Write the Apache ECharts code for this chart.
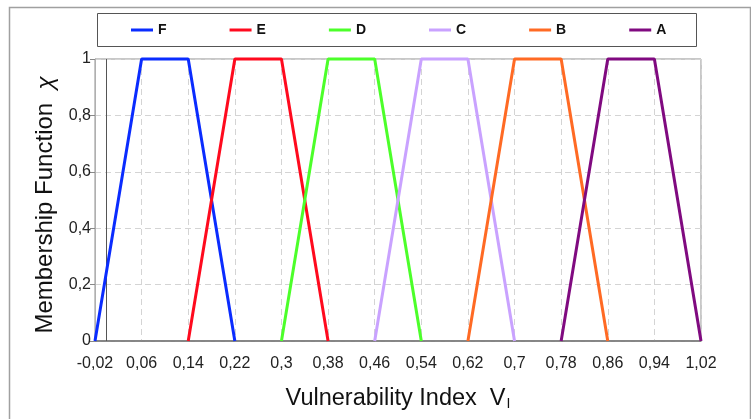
<!DOCTYPE html>
<html>
<head>
<meta charset="utf-8">
<script src="https://cdn.jsdelivr.net/npm/echarts@6/dist/echarts.min.js"></script>
<style>html,body{margin:0;padding:0;background:#fff}#c{width:751px;height:419px}</style>
</head>
<body>
<div id="c"></div>
<script>
// Class names (legend order)
const classNames = ['F', 'E', 'D', 'C', 'B', 'A'];
// Trapezoid vertices (x) for each class
const xF = [-0.02, 0.06, 0.14, 0.22];
const xE = [0.14, 0.22, 0.30, 0.38];
const xD = [0.30, 0.38, 0.46, 0.54];
const xC = [0.46, 0.54, 0.62, 0.70];
const xB = [0.62, 0.70, 0.78, 0.86];
const xA = [0.78, 0.86, 0.94, 1.02];
// Membership values at the vertices
const yTrap = [0, 1, 1, 0];
// Tick values
const xTicks = [-0.02, 0.06, 0.14, 0.22, 0.30, 0.38, 0.46, 0.54, 0.62, 0.70, 0.78, 0.86, 0.94, 1.02];
const yTicks = [0, 0.2, 0.4, 0.6, 0.8, 1];

const colors = ['#0a2cff', '#ff0a1e', '#4cff2a', '#c9a2ff', '#ff6a24', '#800a80'];
const xs = [xF, xE, xD, xC, xB, xA];

const FONT = 'Liberation Sans, Arial, sans-serif';
const fmt = v => String(+(+v).toFixed(2)).replace('.', ',');

const series = classNames.map((n, i) => ({
  name: n,
  type: 'line',
  symbol: 'none',
  clip: false,
  data: xs[i].map((x, j) => [x, yTrap[j]]),
  lineStyle: { color: colors[i], width: 3 },
  itemStyle: { color: colors[i] },
  z: 3
}));
series[0].markLine = {
  silent: true,
  symbol: 'none',
  label: { show: false },
  lineStyle: { color: '#555', width: 1, type: 'solid' },
  data: [{ xAxis: 0 }],
  z: 2
};

const chart = echarts.init(document.getElementById('c'), null, { renderer: 'canvas' });
chart.setOption({
  animation: false,
  backgroundColor: '#fff',
  textStyle: { fontFamily: FONT },
  graphic: [
    { type: 'rect', shape: { x: 9.5, y: 7.5, width: 741, height: 440 }, style: { fill: 'none', stroke: '#a0a0a0', lineWidth: 1.5 }, z: -1 },
    { type: 'rect', shape: { x: 97.5, y: 13.5, width: 599, height: 33 }, style: { fill: '#fff', stroke: '#555', lineWidth: 1 }, z: 0 }
  ],
  legend: {
    data: classNames,
    left: 131,
    top: 23,
    padding: 0,
    itemGap: 63,
    itemWidth: 22,
    itemHeight: 3,
    icon: 'rect',
    textStyle: { fontSize: 14, fontWeight: 'bold', color: '#111', fontFamily: FONT },
    z: 5
  },
  grid: {
    left: 95, right: 50, top: 59, bottom: 78,
    show: true, borderColor: '#909090', borderWidth: 1, backgroundColor: 'transparent'
  },
  xAxis: {
    type: 'value',
    min: -0.02, max: 1.02,
    name: '{m|Vulnerability Index  V}{sub|I}',
    nameLocation: 'middle',
    nameGap: 46,
    nameTextStyle: {
      fontSize: 23.5, color: '#111', fontFamily: FONT,
      rich: {
        m: { fontSize: 23.5, color: '#111', fontFamily: FONT },
        sub: { fontSize: 14, verticalAlign: 'bottom', padding: [10, 0, 0, 1], color: '#111', fontFamily: FONT }
      }
    },
    axisLine: { show: true, onZero: false, lineStyle: { color: '#707070', width: 1.5 } },
    axisTick: { show: false, customValues: xTicks },
    axisLabel: { customValues: xTicks, formatter: fmt, fontSize: 16, color: '#222', margin: 15 },
    splitLine: { show: true, lineStyle: { color: '#d4d4d4', type: [6, 4], width: 1 } }
  },
  yAxis: {
    type: 'value',
    min: 0, max: 1, interval: 0.2,
    name: '{m|Membership Function  }{c|\u03C7}',
    nameLocation: 'middle',
    nameGap: 33,
    nameTextStyle: {
      fontSize: 24, color: '#111', fontFamily: FONT,
      rich: {
        m: { fontSize: 24, color: '#111', fontFamily: FONT },
        c: { fontSize: 24, fontStyle: 'italic', color: '#111', fontFamily: FONT, padding: [0, 10, 0, 0] }
      }
    },
    axisLine: { show: true, onZero: false, lineStyle: { color: '#b0b0b0', width: 1 } },
    axisTick: { show: true, inside: false, length: 5, lineStyle: { color: '#888' } },
    axisLabel: { formatter: fmt, fontSize: 16, color: '#222', margin: 4 },
    splitLine: { show: true, lineStyle: { color: '#d4d4d4', type: [6, 4], width: 1 } }
  },
  series: series
});
</script>
</body>
</html>
